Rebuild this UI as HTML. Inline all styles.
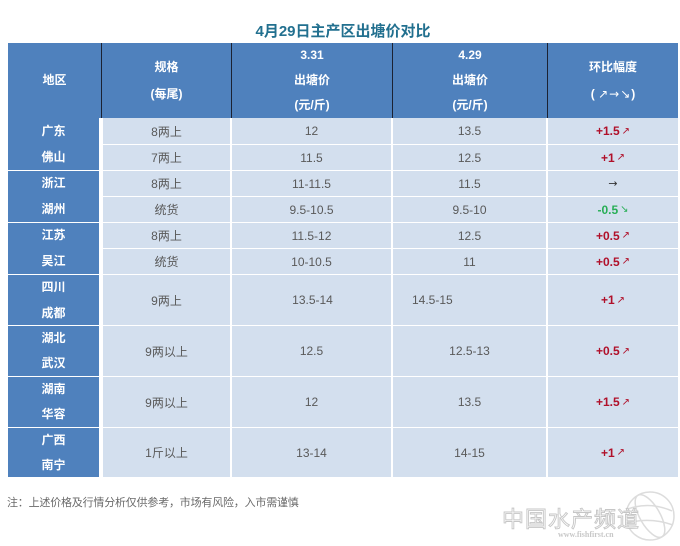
<!DOCTYPE html>
<html><head><meta charset="utf-8">
<style>
*{margin:0;padding:0;box-sizing:border-box}
html,body{width:680px;height:546px;background:#fff;overflow:hidden}
body{position:relative;font-family:"Liberation Sans","Noto Sans CJK SC",sans-serif}
.t{position:absolute;left:0;top:22px;width:680px;text-align:center;font-size:15px;font-weight:bold;color:#22708f;letter-spacing:0;line-height:20px;padding-left:6px}
.hd{position:absolute;left:8px;top:43px;width:670px;height:75px;background:#4f81bd}
.vl{position:absolute;top:43px;width:1px;height:75px;background:#1b2233}
.h{position:absolute;top:43px;height:75px;display:flex;flex-direction:column;align-items:center;justify-content:center;color:#fff;font-weight:bold;font-size:12px;text-align:center}
.h span{display:block;line-height:25px;height:25px}
.h2 span{line-height:27px;height:27px}
.r{position:absolute;left:8px;width:91px;background:#4f81bd;color:#fff;font-weight:bold;font-size:12px;display:flex;flex-direction:column;align-items:center;justify-content:center}
.r span{display:block}
.c{position:absolute;background:#d3dfee;color:#595959;font-size:12px;display:flex;align-items:center;justify-content:center;white-space:nowrap}
.s{left:103px;width:127px}
.p1{left:232px;width:159px}
.p2{left:393px;width:153px}
.g{left:548px;width:130px;font-weight:bold}
.up{color:#b0102a}
.dn{color:#27ae55}
.ar{font-size:10px;font-weight:normal;margin-left:2px;font-family:"DejaVu Sans",sans-serif}
.ha{font-family:"DejaVu Sans",sans-serif;font-size:12px;font-weight:normal;letter-spacing:1px}
.note{position:absolute;left:7px;top:495px;font-size:11px;color:#6a6a6a;font-family:"Liberation Sans","Noto Sans CJK SC",sans-serif;line-height:16px;letter-spacing:-0.2px}
</style></head><body>
<div class="t">4月29日主产区出塘价对比</div>
<div class="hd"></div>
<div class="vl" style="left:101px"></div>
<div class="vl" style="left:231px"></div>
<div class="vl" style="left:392px"></div>
<div class="vl" style="left:547px"></div>
<div class="h" style="left:8px;width:93px"><span>地区</span></div>
<div class="h h2" style="left:102px;width:129px"><span>规格</span><span>(每尾)</span></div>
<div class="h" style="left:232px;width:160px"><span>3.31</span><span>出塘价</span><span>(元/斤)</span></div>
<div class="h" style="left:393px;width:154px"><span>4.29</span><span>出塘价</span><span>(元/斤)</span></div>
<div class="h h2" style="left:548px;width:130px"><span>环比幅度</span><span>( <b class="ha">↗→↘</b>)</span></div>

<!-- region column -->
<div class="r" style="top:118px;height:52px"><span style="line-height:26px">广东</span><span style="line-height:26px">佛山</span></div>
<div class="r" style="top:171px;height:51px"><span style="line-height:25.5px">浙江</span><span style="line-height:25.5px">湖州</span></div>
<div class="r" style="top:223px;height:51px"><span style="line-height:25.5px">江苏</span><span style="line-height:25.5px">吴江</span></div>
<div class="r" style="top:275px;height:50px"><span style="line-height:26px">四川</span><span style="line-height:26px">成都</span></div>
<div class="r" style="top:326px;height:50px"><span style="line-height:25px">湖北</span><span style="line-height:25px">武汉</span></div>
<div class="r" style="top:377px;height:50px"><span style="line-height:25px">湖南</span><span style="line-height:25px">华容</span></div>
<div class="r" style="top:428px;height:49px"><span style="line-height:25px">广西</span><span style="line-height:25px">南宁</span></div>

<!-- row 1 -->
<div class="c s" style="top:118px;height:26px">8两上</div>
<div class="c p1" style="top:118px;height:26px">12</div>
<div class="c p2" style="top:118px;height:26px">13.5</div>
<div class="c g up" style="top:118px;height:26px">+1.5<span class="ar">↗</span></div>
<!-- row 2 -->
<div class="c s" style="top:145px;height:25px">7两上</div>
<div class="c p1" style="top:145px;height:25px">11.5</div>
<div class="c p2" style="top:145px;height:25px">12.5</div>
<div class="c g up" style="top:145px;height:25px">+1<span class="ar">↗</span></div>
<!-- row 3 -->
<div class="c s" style="top:171px;height:25px">8两上</div>
<div class="c p1" style="top:171px;height:25px">11-11.5</div>
<div class="c p2" style="top:171px;height:25px">11.5</div>
<div class="c g" style="top:171px;height:25px;color:#333;font-weight:normal"><span style="font-family:'DejaVu Sans',sans-serif;font-size:11px">→</span></div>
<!-- row 4 -->
<div class="c s" style="top:197px;height:25px">统货</div>
<div class="c p1" style="top:197px;height:25px">9.5-10.5</div>
<div class="c p2" style="top:197px;height:25px">9.5-10</div>
<div class="c g dn" style="top:197px;height:25px">-0.5<span class="ar">↘</span></div>
<!-- row 5 -->
<div class="c s" style="top:223px;height:25px">8两上</div>
<div class="c p1" style="top:223px;height:25px">11.5-12</div>
<div class="c p2" style="top:223px;height:25px">12.5</div>
<div class="c g up" style="top:223px;height:25px">+0.5<span class="ar">↗</span></div>
<!-- row 6 -->
<div class="c s" style="top:249px;height:25px">统货</div>
<div class="c p1" style="top:249px;height:25px">10-10.5</div>
<div class="c p2" style="top:249px;height:25px">11</div>
<div class="c g up" style="top:249px;height:25px">+0.5<span class="ar">↗</span></div>
<!-- row 7 -->
<div class="c s" style="top:275px;height:50px">9两上</div>
<div class="c p1" style="top:275px;height:50px;padding-left:2px">13.5-14</div>
<div class="c p2" style="top:275px;height:50px;justify-content:flex-start;padding-left:19px">14.5-15</div>
<div class="c g up" style="top:275px;height:50px">+1<span class="ar">↗</span></div>
<!-- row 8 -->
<div class="c s" style="top:326px;height:50px">9两以上</div>
<div class="c p1" style="top:326px;height:50px">12.5</div>
<div class="c p2" style="top:326px;height:50px">12.5-13</div>
<div class="c g up" style="top:326px;height:50px">+0.5<span class="ar">↗</span></div>
<!-- row 9 -->
<div class="c s" style="top:377px;height:50px">9两以上</div>
<div class="c p1" style="top:377px;height:50px">12</div>
<div class="c p2" style="top:377px;height:50px">13.5</div>
<div class="c g up" style="top:377px;height:50px">+1.5<span class="ar">↗</span></div>
<!-- row 10 -->
<div class="c s" style="top:428px;height:49px">1斤以上</div>
<div class="c p1" style="top:428px;height:49px">13-14</div>
<div class="c p2" style="top:428px;height:49px">14-15</div>
<div class="c g up" style="top:428px;height:49px">+1<span class="ar">↗</span></div>

<div class="note">注：上述价格及行情分析仅供参考，市场有风险，入市需谨慎</div>

<svg style="position:absolute;left:490px;top:480px" width="190" height="66" viewBox="0 0 190 66">
  <g fill="none" stroke="#dcdcdc" stroke-width="1.5">
    <circle cx="160" cy="36" r="24"/>
    <ellipse cx="160" cy="36" rx="10" ry="24" transform="rotate(-30 160 36)"/>
    <path d="M138 29 Q160 21 182 31"/>
    <path d="M137 43 Q160 37 183 45"/>
  </g>
  <text x="12" y="47" font-family="Noto Sans CJK SC, sans-serif" font-size="22" fill="#fff" stroke="#c6c6c6" stroke-width="0.9" letter-spacing="1">中国水产频道</text>
  <text x="68" y="57" font-family="Liberation Serif, serif" font-size="8" fill="#c8c8c8" font-weight="bold">www.fishfirst.cn</text>
</svg>
</body></html>
